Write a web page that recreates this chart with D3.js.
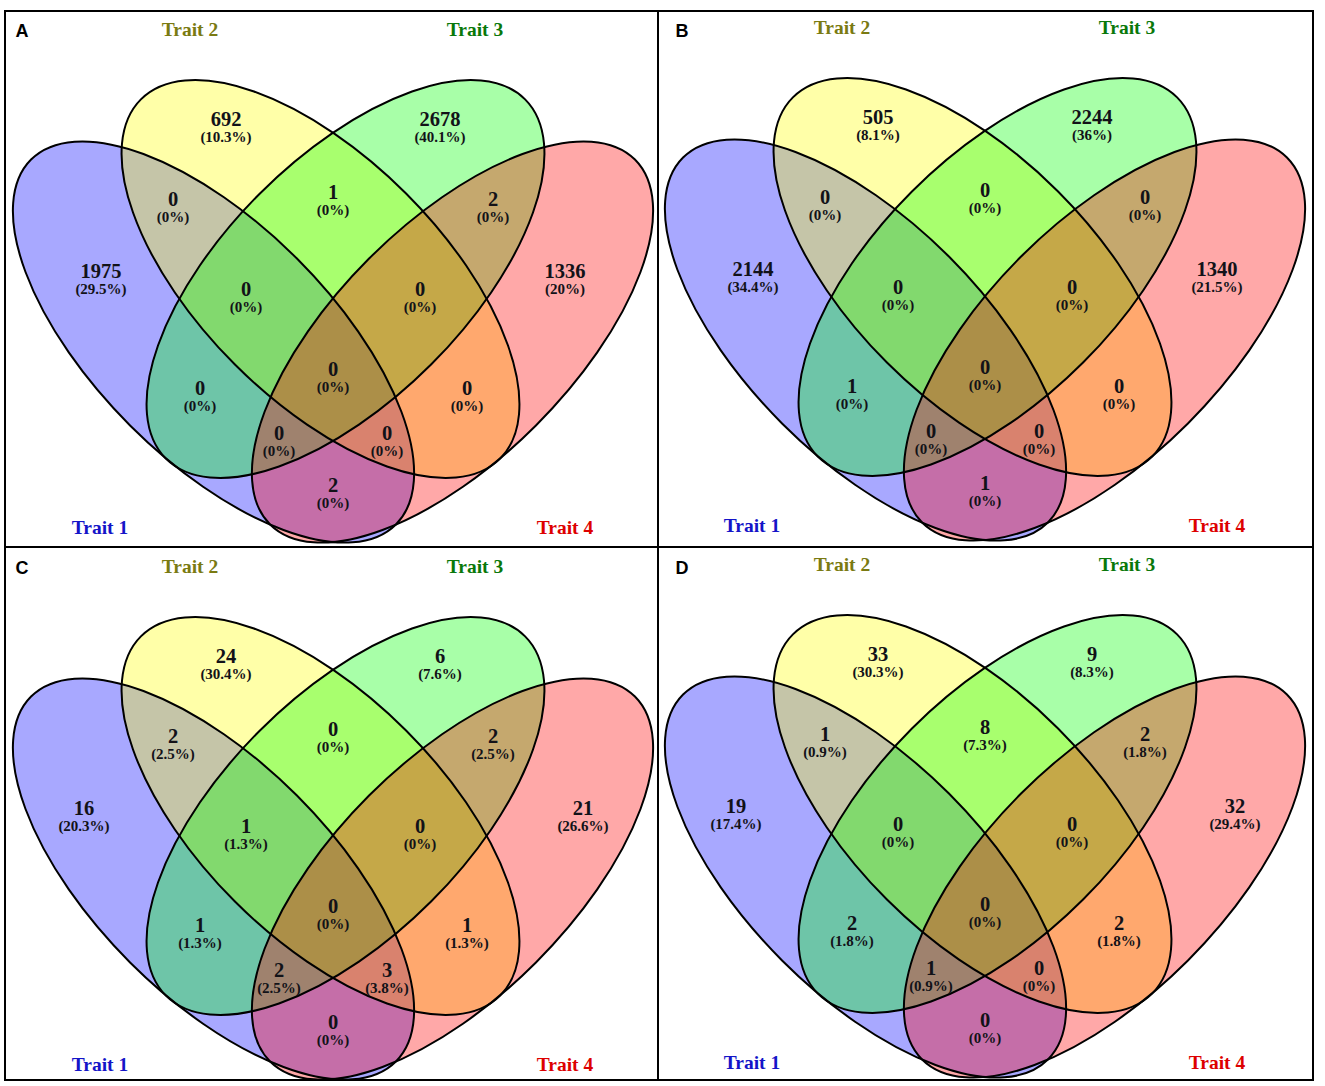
<!DOCTYPE html>
<html><head><meta charset="utf-8">
<script src="https://cdn.jsdelivr.net/npm/d3@7"></script>
<style>body{margin:0;background:#fff}svg{display:block}</style>
</head><body>
<svg id="chart" width="1325" height="1086"></svg>
<script>
// ---------- data ----------
const traits = ["Trait 1", "Trait 2", "Trait 3", "Trait 4"];
const panelNames = ["A", "B", "C", "D"];
// region order: only 1, only 2, only 3, only 4, 1&2, 2&3, 3&4, 1&2&3, 2&3&4, 1&3, 2&4, all, 1&3&4, 1&2&4, 1&4
const regions = ["1","2","3","4","12","23","34","123","234","13","24","1234","134","124","14"];
const countsA = [1975, 692, 2678, 1336, 0, 1, 2, 0, 0, 0, 0, 0, 0, 0, 2];
const pctA    = ["29.5%","10.3%","40.1%","20%","0%","0%","0%","0%","0%","0%","0%","0%","0%","0%","0%"];
const countsB = [2144, 505, 2244, 1340, 0, 0, 0, 0, 0, 1, 0, 0, 0, 0, 1];
const pctB    = ["34.4%","8.1%","36%","21.5%","0%","0%","0%","0%","0%","0%","0%","0%","0%","0%","0%"];
const countsC = [16, 24, 6, 21, 2, 0, 2, 1, 0, 1, 1, 0, 2, 3, 0];
const pctC    = ["20.3%","30.4%","7.6%","26.6%","2.5%","0%","2.5%","1.3%","0%","1.3%","1.3%","0%","2.5%","3.8%","0%"];
const countsD = [19, 33, 9, 32, 1, 8, 2, 0, 0, 2, 2, 0, 1, 0, 0];
const pctD    = ["17.4%","30.3%","8.3%","29.4%","0.9%","7.3%","1.8%","0%","0%","1.8%","1.8%","0%","0.9%","0%","0%"];
const panelCounts = [countsA, countsB, countsC, countsD];
const panelPcts = [pctA, pctB, pctC, pctD];

// ---------- layout (design units = panel pixels) ----------
const fills = ["#0000FF", "#FFFF00", "#00FF00", "#FF0000"];
const traitColors = ["#1414C8", "#7A7A12", "#0A780A", "#DD0000"];
const ellipses = [ // cx, cy, a, b, rotation
  [213.5, 342, 258, 118, 45],
  [320.5, 279, 254, 121, 45],
  [345.5, 279, 254, 121, -45],
  [452.5, 342, 258, 118, -45]
];
const labelPos = [
  [101,271],[226,119],[440,119],[565,271],[173,199],[333,192],[493,199],
  [246,289],[420,289],[200,388],[467,388],[333,369],[279,433],[387,433],[333,485]
];
const outerLabelX = [[101,565],[101,565],[84,583],[84,583]];
const traitPos = [[100,527],[190,29],[475,29],[565,527]];
const offsets = [[0,0],[652,-2],[0,537],[652,535]];
const letterPos = [[22,30],[682,30],[22,567],[682,567]];

const svg = d3.select("#chart");

panelNames.forEach((name, p) => {
  const [ox, oy] = offsets[p];
  const sx = d3.scaleLinear().domain([0, 666]).range([ox, ox + 666]);
  const sy = d3.scaleLinear().domain([0, 666]).range([oy, oy + 666]);
  const g = svg.append("g");
  const ell = (sel) => sel
    .attr("cx", d => sx(d[0])).attr("cy", d => sy(d[1]))
    .attr("rx", d => sx(d[2]) - sx(0)).attr("ry", d => sy(d[3]) - sy(0))
    .attr("transform", d => `rotate(${d[4]},${sx(d[0])},${sy(d[1])})`);
  g.selectAll("ellipse.fill").data(ellipses).join("ellipse").attr("class","fill")
    .call(ell).attr("fill", (d,i) => fills[i]).attr("fill-opacity", 0.34).attr("stroke","none");
  g.selectAll("ellipse.line").data(ellipses).join("ellipse").attr("class","line")
    .call(ell).attr("fill","none").attr("stroke","#000").attr("stroke-width",2);

  const counts = panelCounts[p], pcts = panelPcts[p];
  const lab = regions.map((r, i) => {
    let [x, y] = labelPos[i];
    if (r === "1") x = outerLabelX[p][0];
    if (r === "4") x = outerLabelX[p][1];
    return {x, y, c: counts[i], pct: pcts[i]};
  });
  g.selectAll("text.num").data(lab).join("text").attr("class","num")
    .attr("x", d => sx(d.x)).attr("y", d => sy(d.y) + 7)
    .attr("text-anchor","middle")
    .style("font-family","'Liberation Serif','Times New Roman',serif")
    .style("font-weight","bold").style("font-size","20.5px").attr("fill","#121218")
    .text(d => d.c);
  g.selectAll("text.pct").data(lab).join("text").attr("class","pct")
    .attr("x", d => sx(d.x)).attr("y", d => sy(d.y) + 23)
    .attr("text-anchor","middle")
    .style("font-family","'Liberation Serif','Times New Roman',serif")
    .style("font-weight","bold").style("font-size","15px").attr("fill","#121218")
    .text(d => "(" + d.pct + ")");

  g.selectAll("text.trait").data(traits).join("text").attr("class","trait")
    .attr("x", (d,i) => sx(traitPos[i][0])).attr("y", (d,i) => sy(traitPos[i][1]) + 6.5)
    .attr("text-anchor","middle")
    .style("font-family","'Liberation Serif','Times New Roman',serif")
    .style("font-weight","bold").style("font-size","19.5px")
    .attr("fill", (d,i) => traitColors[i]).text(d => d);

  svg.append("text").attr("x", letterPos[p][0]).attr("y", letterPos[p][1] + 6.5)
    .attr("text-anchor","middle")
    .style("font-family","'Liberation Sans',Arial,sans-serif")
    .style("font-weight","bold").style("font-size","18px").attr("fill","#000")
    .text(name);
});

// frame
svg.append("rect").attr("x",5).attr("y",11).attr("width",1308).attr("height",1069)
  .attr("fill","none").attr("stroke","#000").attr("stroke-width",2);
svg.append("line").attr("x1",658).attr("x2",658).attr("y1",11).attr("y2",1080)
  .attr("stroke","#000").attr("stroke-width",2);
svg.append("line").attr("x1",5).attr("x2",1313).attr("y1",547).attr("y2",547)
  .attr("stroke","#000").attr("stroke-width",2);
</script>
</body></html>
